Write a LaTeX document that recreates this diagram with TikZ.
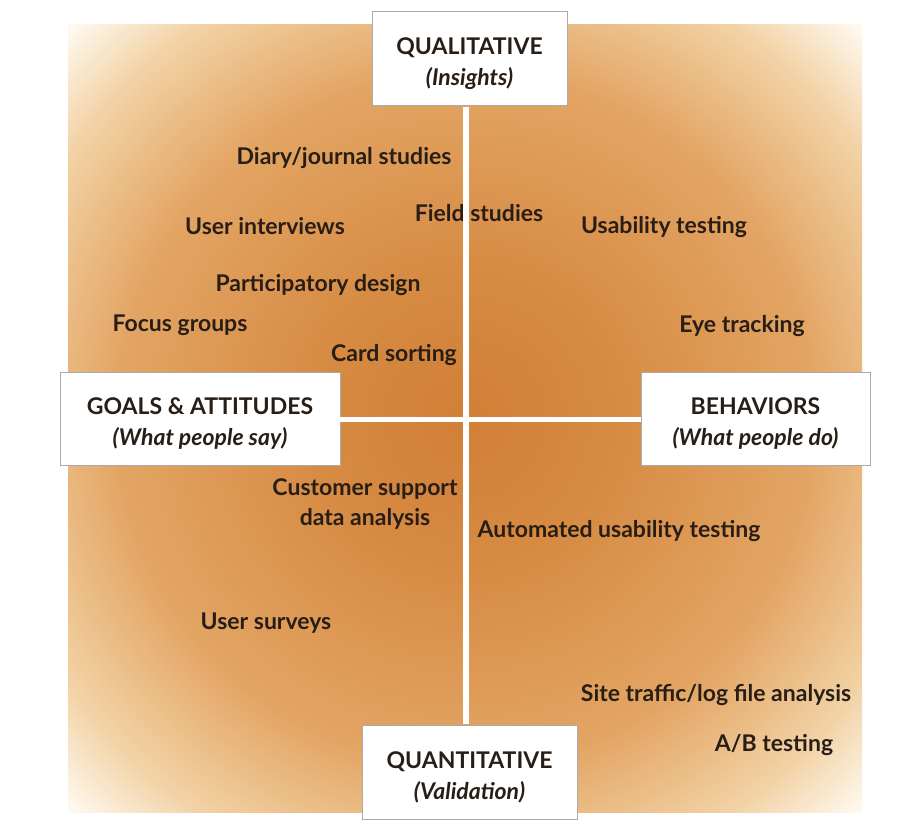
\documentclass[tikz,border=0pt]{standalone}
\usepackage{fontspec}
\setmainfont{Lato}
\definecolor{bgA}{RGB}{209,127,55}
\definecolor{bgB}{RGB}{214,138,66}
\definecolor{bgC}{RGB}{227,165,100}
\definecolor{bgD}{RGB}{242,210,165}
\definecolor{bgE}{RGB}{254,248,238}
\definecolor{txt}{RGB}{40,30,22}
\definecolor{boxline}{RGB}{170,170,170}
\pgfdeclareradialshading{quadbg}{\pgfpoint{0bp}{0bp}}{color(0bp)=(bgA); color(9bp)=(bgB); color(22bp)=(bgC); color(30bp)=(bgD); color(35bp)=(bgE); color(50bp)=(bgE)}
\tikzset{
  lbl/.style={font=\fontsize{23}{27}\selectfont\bfseries, text=txt, inner sep=0pt, align=center},
  headbox/.style={draw=boxline, line width=1pt, fill=white, inner sep=0pt},
  headtxt/.style={text=txt, align=center, font=\fontsize{23}{31}\selectfont\bfseries, inner sep=0pt},
  axis/.style={white, line width=6pt}
}
\begin{document}
\begin{tikzpicture}[x=1pt,y=-1pt]
\useasboundingbox (0,0) rectangle (924,840);
\fill[white] (0,0) rectangle (924,840);
\shade[shading=quadbg] (68,25) rectangle (862,812);
\coordinate (c) at (466,419);
% labels
\node[lbl] (diary) at (344,158) {Diary/journal studies};
\node[lbl] (field) at (479,213) {Field studies};
\node[lbl] (inter) at (265,226) {User interviews};
\node[lbl] (usab) at (664,227) {Usability testing};
\node[lbl] (part) at (318,285) {Participatory design};
\node[lbl] (focus) at (180,325) {Focus groups};
\node[lbl] (eye) at (742,326) {Eye tracking};
\node[lbl] (card) at (394,355) {Card sorting};
\node[lbl, font=\fontsize{23}{30}\selectfont\bfseries] (cust) at (365,504) {Customer support\\data analysis};
\node[lbl] (auto) at (619,531) {Automated usability testing};
\node[lbl] (surv) at (266,623) {User surveys};
\node[lbl] (site) at (716,695) {Site traffic/log file analysis};
\node[lbl] (ab) at (774,745) {A/B testing};
% boxes
\node[headbox, minimum width=195pt, minimum height=94pt] (qual) at (469.5,59) {};
\node[headbox, minimum width=280pt, minimum height=93pt] (goals) at (200,418.5) {};
\node[headbox, minimum width=229pt, minimum height=93pt] (beh) at (755.5,418.5) {};
\node[headbox, minimum width=215pt, minimum height=94pt] (quant) at (469.5,772) {};
\node[headtxt] (qualt) at ([yshift=-5pt]qual.center) {QUALITATIVE\\{\itshape (Insights)}};
\node[headtxt] (goalst) at ([yshift=-5pt]goals.center) {GOALS \& ATTITUDES\\{\itshape (What people say)}};
\node[headtxt] (beht) at ([yshift=-5pt]beh.center) {BEHAVIORS\\{\itshape (What people do)}};
\node[headtxt] (quantt) at ([yshift=-5pt]quant.center) {QUANTITATIVE\\{\itshape (Validation)}};
% axes
\draw[axis] ([yshift=-0.5pt]qual.south -| c) -- ([yshift=0.5pt]quant.north -| c);
\draw[axis, line width=5pt] ([xshift=-0.5pt]goals.east |- c) -- ([xshift=0.5pt]beh.west |- c);
\end{tikzpicture}
\end{document}
